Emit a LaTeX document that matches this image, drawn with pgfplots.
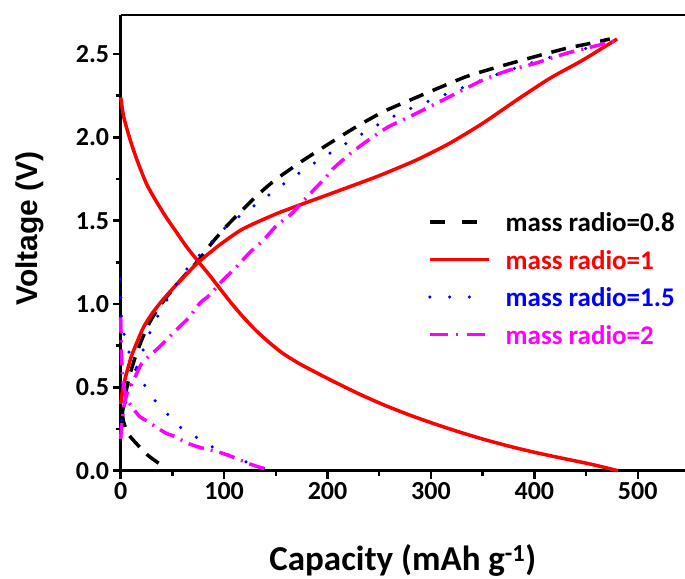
\documentclass[border=0pt]{standalone}
\usepackage{fontspec}
\setmainfont{Carlito}
\newfontfamily\arialfont{Liberation Sans}
\usepackage{pgfplots}
\pgfplotsset{compat=1.18}
\usetikzlibrary{calc}

\definecolor{cRed}{RGB}{255,0,0}
\definecolor{cBlue}{RGB}{0,0,255}
\definecolor{cMag}{RGB}{255,0,255}

\begin{document}
\begin{tikzpicture}
\begin{axis}[
  name=ax,
  scale only axis,
  width=564.3pt, height=455.7pt,
  xmin=0, xmax=545.7, ymin=0, ymax=2.734,
  clip=false,
  axis x line=box, axis y line=left,
  axis line style={-, line width=2.5pt, black},
  xtick pos=bottom, ytick pos=left,
  tick align=outside,
  major tick length=8pt, minor tick length=5pt,
  tick style={line width=2.5pt, black},
  minor tick style={line width=2.5pt, black},
  xtick={0,100,...,500},
  ytick={0,0.5,1,1.5,2,2.5},
  minor x tick num=1, minor y tick num=1,
  ticklabel style={font=\fontsize{26}{30}\selectfont\bfseries, /pgf/number format/assume math mode=true},
  yticklabel style={/pgf/number format/.cd, fixed, fixed zerofill, precision=1},
  xticklabel style={/pgf/number format/.cd, fixed, precision=0},
  xlabel={Capacity (mAh g\textsuperscript{-1})},
  xlabel style={font=\fontsize{35}{40}\selectfont\bfseries, at={(axis description cs:0.5,-0.2180)}, anchor=base},
  ylabel={Voltage (V)},
  ylabel style={font=\arialfont\fontsize{30}{34}\selectfont\bfseries, at={(axis description cs:-0.1607,0.5315)}, anchor=center},
  legend style={at={(axis description cs:0.5446,0.567)}, anchor=north west, draw=none, fill=none,
    font=\fontsize{27}{30}\selectfont\bfseries, inner sep=0pt, row sep=18.5pt,
    nodes={inner sep=0pt, text height=19pt, text depth=0pt}},
  legend cell align=left,
  legend image code/.code={\draw[#1] (0pt,0pt) -- (59pt,0pt);},
  /tikz/every odd column/.append style={column sep=15pt},
]

% mass radio = 0.8 : charge and discharge
\addplot[black, line width=3.5pt, dash pattern=on 15pt off 10pt, smooth, tension=0.4,
  legend image post style={dash pattern=on 15pt off 17pt}] coordinates {
  (0.5,0.30) (3,0.40) (6,0.50) (9,0.58) (14,0.68) (20,0.78) (28,0.89) (38,0.99)
  (50.6,1.09) (63,1.18) (75,1.26) (88,1.365) (102,1.465) (113,1.535) (125,1.610)
  (138,1.685) (150.6,1.750) (176,1.860) (202,1.964) (228,2.064) (254,2.154) (280,2.224)
  (307,2.295) (334,2.364) (358,2.41) (383,2.454) (407,2.495) (431,2.534)
  (455,2.565) (473,2.59)
};
\addlegendentry{mass radio=0.8}
\addplot[black, line width=3.5pt, dash pattern=on 15pt off 10pt, smooth, tension=0.4, forget plot] coordinates {
  (0,0.50) (1,0.40) (2.5,0.30) (7,0.224) (13.5,0.174) (26,0.094) (39,0.035)
};

% mass radio = 1
\addplot[cRed, line width=3.5pt, smooth, tension=0.4] coordinates {
  (0,0.40) (2,0.49) (5,0.57) (10,0.68) (15,0.76) (22,0.86) (30,0.94) (40,1.02)
  (50,1.09) (63,1.175) (75,1.250) (95.7,1.355) (118,1.45) (150,1.54) (173,1.594)
  (200,1.655) (221.5,1.704) (250,1.77) (286,1.864) (318,1.964) (350,2.084)
  (383,2.224) (415,2.354) (447,2.464) (480,2.59)
};
\addlegendentry{\textcolor{cRed}{mass radio=1}}
\addplot[cRed, line width=3.5pt, smooth, tension=0.4, forget plot] coordinates {
  (0,2.24) (3,2.12) (9.4,1.98) (16,1.86) (25,1.72) (34,1.62) (44,1.52) (54,1.43)
  (63.5,1.345) (75,1.255) (85,1.18) (95,1.10) (107,1.005) (118,0.925) (131,0.840)
  (144,0.767) (157,0.703) (172,0.645) (188,0.592) (205,0.538) (230,0.462)
  (254,0.396) (278,0.337) (302,0.284) (326,0.235) (350,0.190) (375,0.148)
  (399,0.112) (426,0.076) (454,0.040) (481,0.0)
};

% mass radio = 1.5
\addplot[cBlue, line width=3.5pt, line cap=round, dash pattern=on 0pt off 18.5pt, smooth, tension=0.4,
  legend image post style={dash pattern=on 0pt off 19.67pt}] coordinates {
  (1,0.30) (2.5,0.344) (6,0.44) (10,0.52) (13,0.58) (18,0.664) (24.8,0.774)
  (31.3,0.874) (39.4,0.968) (49,1.068) (57,1.154) (68.4,1.244) (79.6,1.314)
  (92,1.40) (105.4,1.484) (120,1.548) (134.4,1.614) (149,1.68) (163.4,1.748)
  (179.6,1.814) (194,1.874) (210,1.934) (226.5,1.994) (241,2.048) (257,2.104)
  (273,2.154) (292.4,2.204) (324.7,2.284) (350,2.345) (376.2,2.404)
  (411.7,2.474) (444,2.524) (479.4,2.58)
};
\addlegendentry{\textcolor{cBlue}{mass radio=1.5}}
\addplot[cBlue, line width=3.5pt, line cap=round, dash pattern=on 0pt off 18.5pt, smooth, tension=0.4, forget plot] coordinates {
  (0,1.15) (0.3,1.03) (0.8,0.91) (4,0.80) (8.7,0.70) (15,0.60) (24,0.504)
  (34,0.414) (46,0.334) (59,0.254) (75,0.194) (91,0.134) (107,0.088)
  (123,0.048) (141,0.008) (143,0)
};

% mass radio = 2
\addplot[cMag, line width=3.5pt, dash pattern=on 16pt off 7pt on 2pt off 7pt, smooth, tension=0.4,
  legend image post style={dash pattern=on 18pt off 8pt on 2pt off 9pt}] coordinates {
  (0,0.19) (1,0.28) (3,0.38) (6,0.46) (10,0.51) (14,0.564) (20,0.64) (28,0.69)
  (37.7,0.744) (50,0.82) (58.7,0.874) (66.7,0.924) (76.4,1.004) (86,1.054)
  (99,1.144) (110,1.21) (125,1.31) (137.6,1.38) (150.6,1.47) (165,1.54)
  (173,1.594) (186,1.68) (199,1.764) (205,1.81) (221.5,1.90) (237.6,1.975)
  (258,2.06) (279.5,2.124) (311.7,2.224) (350.4,2.344) (376.2,2.404)
  (398.7,2.44) (431,2.504) (463,2.554) (479,2.58)
};
\addlegendentry{\textcolor{cMag}{mass radio=2}}
\addplot[cMag, line width=3.5pt, dash pattern=on 16pt off 7pt on 2pt off 7pt, smooth, tension=0.4, forget plot] coordinates {
  (0,0.92) (0.4,0.80) (1,0.65) (2.5,0.52) (5.5,0.444) (10,0.39) (18.4,0.324)
  (25,0.30) (31.2,0.274) (44,0.224) (50.6,0.210) (65,0.164) (79.6,0.134)
  (95.7,0.110) (111.8,0.074) (125,0.04) (140.8,0.008) (142,0)
};
\end{axis}
\pgfresetboundingbox
\path[use as bounding box] ($(ax.south west)+(-120.7pt,-107.3pt)$) rectangle ($(ax.north east)+(0pt,15pt)$);
\end{tikzpicture}
\end{document}
